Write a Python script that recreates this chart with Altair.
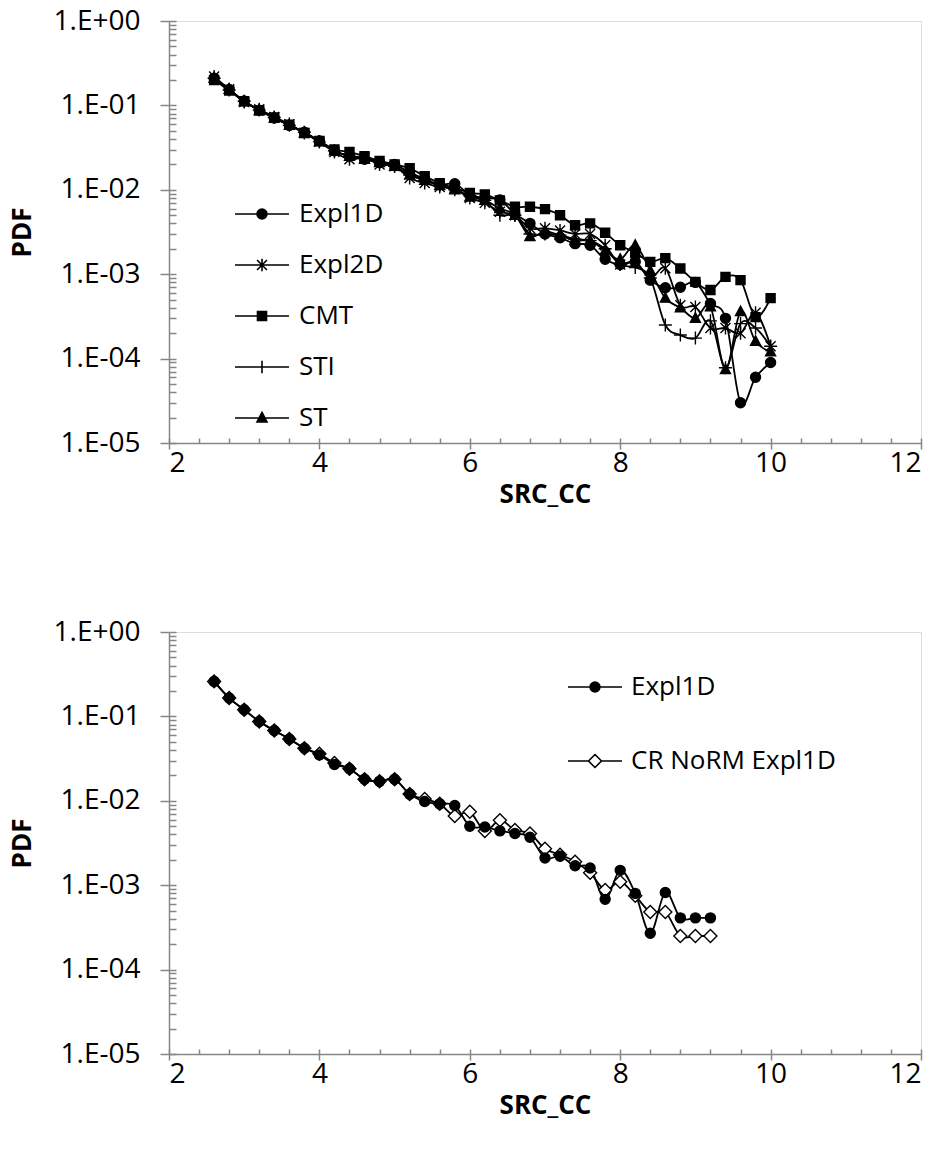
import altair as alt
import pandas as pd

# ---------------- data ----------------
X_TOP = [2.6, 2.8, 3.0, 3.2, 3.4, 3.6, 3.8, 4.0, 4.2, 4.4, 4.6, 4.8, 5.0, 5.2, 5.4,
         5.6, 5.8, 6.0, 6.2, 6.4, 6.6, 6.8, 7.0, 7.2, 7.4, 7.6, 7.8, 8.0, 8.2, 8.4,
         8.6, 8.8, 9.0, 9.2, 9.4, 9.6, 9.8, 10.0]
TOP_EXPL1D = [0.21, 0.155, 0.113, 0.088, 0.071, 0.058, 0.048, 0.038, 0.029, 0.025,
              0.023, 0.021, 0.020, 0.016, 0.0135, 0.0115, 0.0118, 0.0088, 0.0080, 0.0076,
              0.0052, 0.0040, 0.0030, 0.0027, 0.0023, 0.0022, 0.0015, 0.0013, 0.0014, 0.00085,
              0.00069, 0.00070, 0.00080, 0.00045, 0.00030, 0.00003, 0.00006, 0.00009]
TOP_EXPL2D = [0.22, 0.155, 0.110, 0.090, 0.073, 0.060, 0.047, 0.037, 0.028, 0.023,
              0.024, 0.020, 0.019, 0.0138, 0.012, 0.0108, 0.0104, 0.0080, 0.0070, 0.0055,
              0.0050, 0.0035, 0.0035, 0.0033, 0.0030, 0.0030, 0.0022, 0.0013, 0.0014, 0.0009,
              0.00118, 0.00043, 0.00041, 0.00023, 0.00023, 0.00020, 0.00035, 0.00014]
TOP_CMT = [0.20, 0.150, 0.112, 0.087, 0.072, 0.059, 0.047, 0.038, 0.030, 0.028,
           0.025, 0.022, 0.020, 0.018, 0.0145, 0.0120, 0.0105, 0.0092, 0.0088, 0.0075,
           0.0063, 0.0063, 0.0059, 0.0050, 0.0038, 0.0040, 0.0031, 0.0022, 0.0018, 0.0014,
           0.00155, 0.00117, 0.00081, 0.00065, 0.00093, 0.00085, 0.00031, 0.00052]
TOP_STI = [0.21, 0.152, 0.112, 0.088, 0.072, 0.058, 0.048, 0.037, 0.029, 0.025,
           0.024, 0.021, 0.019, 0.015, 0.0130, 0.0112, 0.0100, 0.0085, 0.0075, 0.0050,
           0.0050, 0.0030, 0.0030, 0.0029, 0.0026, 0.0025, 0.0020, 0.0013, 0.0012, 0.0009,
           0.00025, 0.00019, 0.000175, 0.00028, 0.000078, 0.00026, 0.00023, 0.00014]
TOP_ST = [0.21, 0.155, 0.111, 0.087, 0.071, 0.058, 0.047, 0.037, 0.029, 0.025,
          0.023, 0.021, 0.019, 0.015, 0.0130, 0.0112, 0.0100, 0.0082, 0.0075, 0.0060,
          0.0050, 0.0028, 0.0032, 0.0029, 0.0025, 0.0025, 0.0019, 0.0015, 0.0022, 0.0011,
          0.00052, 0.00040, 0.00030, 0.00041, 0.000074, 0.00036, 0.00016, 0.00012]

X_BOT = [2.6, 2.8, 3.0, 3.2, 3.4, 3.6, 3.8, 4.0, 4.2, 4.4, 4.6, 4.8, 5.0, 5.2, 5.4,
         5.6, 5.8, 6.0, 6.2, 6.4, 6.6, 6.8, 7.0, 7.2, 7.4, 7.6, 7.8, 8.0, 8.2, 8.4,
         8.6, 8.8, 9.0, 9.2]
BOT_EXPL1D = [0.26, 0.165, 0.12, 0.087, 0.068, 0.054, 0.042, 0.035, 0.027, 0.024,
              0.018, 0.017, 0.018, 0.012, 0.0098, 0.0092, 0.0088, 0.0050, 0.0049, 0.0044,
              0.0041, 0.0037, 0.0021, 0.0022, 0.0017, 0.0016, 0.00068, 0.0015, 0.0008, 0.00027,
              0.00082, 0.00041, 0.00041, 0.00041]
BOT_CRNORM = [0.26, 0.165, 0.12, 0.087, 0.068, 0.054, 0.042, 0.036, 0.028, 0.024,
              0.018, 0.017, 0.018, 0.012, 0.0105, 0.0092, 0.0066, 0.0074, 0.0044, 0.0059,
              0.0045, 0.0041, 0.0027, 0.0023, 0.0019, 0.0014, 0.00088, 0.0011, 0.00075, 0.00048,
              0.00048, 0.00025, 0.00025, 0.00025]

TOP_NAMES = ["Expl1D", "Expl2D", "CMT", "STI", "ST"]
BOT_NAMES = ["Expl1D", "CR NoRM Expl1D"]

X_MAJOR = [2, 4, 6, 8, 10, 12]
Y_MAJOR = [1e-5, 1e-4, 1e-3, 1e-2, 1e-1, 1]

# ---------------- style ----------------
FONT = "Open Sans"
GRAY = "#868686"
W, H = 752, 422
FS = 26
TICK_FS = 28

X_MINOR = [round(2 + 0.4 * i, 1) for i in range(26)]
Y_MINOR = [k * 10.0 ** e for e in range(-5, 0) for k in range(1, 10)] + [1.0]

# marker paths (unit square [-1,1] scaled by sqrt(size)/2)
CIRCLE = "M-1,0A1,1,0,1,0,1,0A1,1,0,1,0,-1,0Z"
SQUARE = "M-0.9,-0.9L0.9,-0.9L0.9,0.9L-0.9,0.9Z"
TRIANGLE = "M0,-1.1L1,0.8L-1,0.8Z"
STAR = "M-1,-1L1,1M-1,1L1,-1M0,-1.3L0,1.3"
PLUS = "M-1.3,0L1.3,0M0,-1.3L0,1.3"
DIAMOND = "M0,-1.3L1.3,0L0,1.3L-1.3,0Z"

# legend symbols: line segment plus a small marker (unit = 9 px with size 324)
L = "M-3,0L3,0"
LEG_CIRCLE = L + "M-0.55,0A0.55,0.55,0,1,0,0.55,0A0.55,0.55,0,1,0,-0.55,0Z"
LEG_SQUARE = L + "M-0.5,-0.5L0.5,-0.5L0.5,0.5L-0.5,0.5Z"
LEG_TRIANGLE = L + "M0,-0.62L0.56,0.45L-0.56,0.45Z"
LEG_STAR = L + "M-0.55,-0.55L0.55,0.55M-0.55,0.55L0.55,-0.55M0,-0.7L0,0.7"
LEG_PLUS = L + "M0,-0.7L0,0.7"
LEG_DIAMOND = "M-3,0L-0.72,0M0.72,0L3,0M0,-0.72L0.72,0L0,0.72L-0.72,0Z"


def long_df(x, names, series):
    rows = []
    for name, vals in zip(names, series):
        assert len(vals) == len(x)
        for xv, yv in zip(x, vals):
            rows.append({"x": xv, "y": yv, "series": name})
    return pd.DataFrame(rows)


def panel(df, point_df, names, marker_paths, fills, legend_paths, marker_size,
          legend_x, legend_y, row_pad, label_offset):
    xs = alt.Scale(domain=[2, 12], nice=False, zero=False)
    ys = alt.Scale(type="log", domain=[1e-5, 1], nice=False)

    main_x = alt.Axis(orient="bottom", values=X_MAJOR, tickSize=6, grid=False,
                      domainColor=GRAY, domainWidth=1.5, tickColor=GRAY, tickWidth=1.5,
                      labelFont=FONT, labelFontSize=TICK_FS, labelColor="black", labelPadding=0,
                      title="SRC_CC", titleFont=FONT, titleFontSize=FS, titleFontWeight="bold",
                      titleColor="black", titlePadding=4, format="d")
    main_y = alt.Axis(orient="left", values=Y_MAJOR, tickSize=9, grid=False,
                      domainColor=GRAY, domainWidth=1.5, tickColor=GRAY, tickWidth=1.5,
                      labelFont=FONT, labelFontSize=TICK_FS, labelColor="black", labelPadding=20,
                      labelExpr="'1.E' + (datum.value >= 1 ? '+00' : '-0' + round(-log(datum.value)/LN10))",
                      title="PDF", titleFont=FONT, titleFontSize=FS, titleFontWeight="bold",
                      titleColor="black", titlePadding=18)
    minor_x = alt.Axis(orient="top", offset=-H, values=X_MINOR, tickSize=5, grid=False,
                       domain=False, labels=False, title=None, tickColor=GRAY, tickWidth=1.5)
    minor_y = alt.Axis(orient="right", offset=-W, values=Y_MINOR, tickSize=7, grid=False,
                       domain=False, labels=False, title=None, tickColor=GRAY, tickWidth=1.5)

    lines = alt.Chart(df).mark_line(color="black", strokeWidth=1.8, interpolate="cardinal").encode(
        x=alt.X("x:Q", scale=xs, axis=main_x),
        y=alt.Y("y:Q", scale=ys, axis=main_y),
        detail="series:N",
    )
    points = alt.Chart(point_df).mark_point(filled=False, stroke="black", strokeWidth=1.4,
                                            opacity=1, size=marker_size).encode(
        x=alt.X("x:Q", scale=xs, axis=minor_x),
        y=alt.Y("y:Q", scale=ys, axis=minor_y),
        shape=alt.Shape("series:N", scale=alt.Scale(domain=names, range=marker_paths), legend=None),
        fill=alt.Fill("series:N", scale=alt.Scale(domain=names, range=fills), legend=None),
    )
    leg_cfg = dict(orient="none", legendX=legend_x, legendY=legend_y, title=None,
                   labelFont=FONT, labelFontSize=FS, labelColor="black",
                   symbolSize=324, symbolStrokeWidth=1.6,
                   labelOffset=label_offset, rowPadding=row_pad, labelLimit=400)
    legend_layer = alt.Chart(df).transform_filter("false").mark_point(
        filled=False, strokeWidth=1.6, opacity=1).encode(
        x=alt.X("x:Q", scale=xs, axis=None),
        y=alt.Y("y:Q", scale=ys, axis=None),
        shape=alt.Shape("series:N", scale=alt.Scale(domain=names, range=legend_paths),
                        legend=alt.Legend(**leg_cfg)),
        fill=alt.Fill("series:N", scale=alt.Scale(domain=names, range=fills),
                      legend=alt.Legend(**leg_cfg)),
        stroke=alt.Stroke("series:N", scale=alt.Scale(domain=names, range=["black"] * len(names)),
                          legend=alt.Legend(**leg_cfg)),
    )
    return (alt.layer(lines, points, legend_layer)
            .resolve_scale(shape="independent", fill="independent", stroke="independent")
            .resolve_axis(x="independent", y="independent")
            .properties(width=W, height=H))


top_df = long_df(X_TOP, TOP_NAMES, [TOP_EXPL1D, TOP_EXPL2D, TOP_CMT, TOP_STI, TOP_ST])
bot_df = long_df(X_BOT, BOT_NAMES, [BOT_EXPL1D, BOT_CRNORM])
# open diamonds are drawn underneath the filled circles
bot_points = long_df(X_BOT, BOT_NAMES[::-1], [BOT_CRNORM, BOT_EXPL1D])

top = panel(top_df, top_df, TOP_NAMES,
            [CIRCLE, STAR, SQUARE, PLUS, TRIANGLE],
            ["black"] * 5,
            [LEG_CIRCLE, LEG_STAR, LEG_SQUARE, LEG_PLUS, LEG_TRIANGLE],
            marker_size=100, legend_x=80, legend_y=180, row_pad=25, label_offset=24)
bot = panel(bot_df, bot_points, BOT_NAMES,
            [CIRCLE, DIAMOND],
            ["black", "white"],
            [LEG_CIRCLE, LEG_DIAMOND],
            marker_size=100, legend_x=413, legend_y=42, row_pad=48, label_offset=23)

chart = (alt.vconcat(top, bot, spacing=109)
         .properties(padding={"left": 8, "top": 6, "right": 0, "bottom": 20})
         .configure_view(stroke=None)
         .configure(background="white"))

chart.save("out.html", embed_options={"renderer": "svg", "actions": False})
